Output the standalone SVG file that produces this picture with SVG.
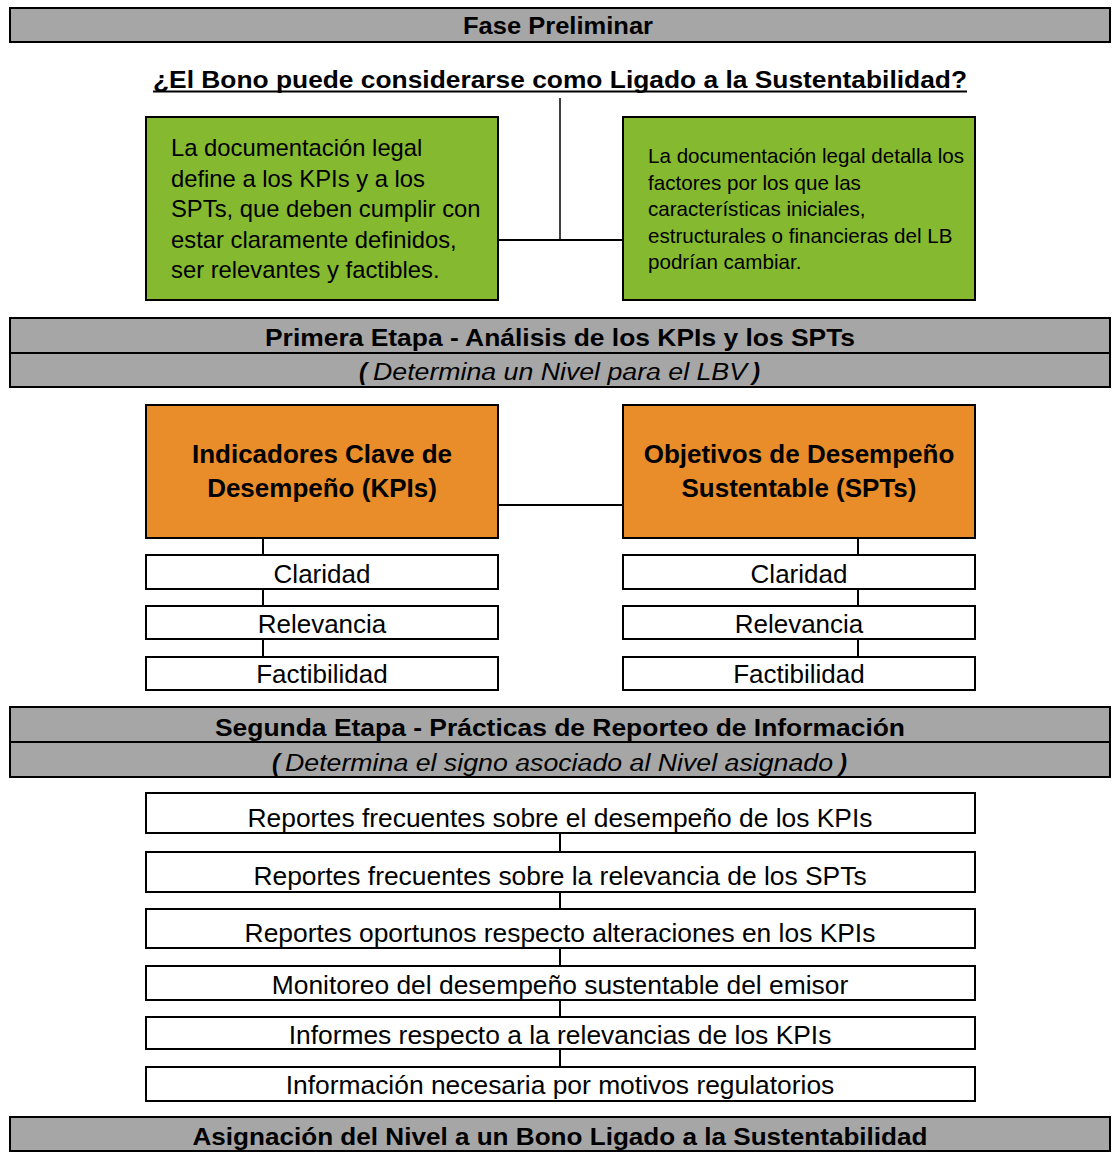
<svg xmlns="http://www.w3.org/2000/svg" width="1119" height="1153" viewBox="0 0 1119 1153">
  <style>
    .bar { fill: #A6A6A6; stroke: #000; stroke-width: 2; }
    .div { stroke: #000; stroke-width: 2; }
    .green { fill: #85B92F; stroke: #000; stroke-width: 2; }
    .orange { fill: #E98D2A; stroke: #000; stroke-width: 2; }
    .white { fill: #FFFFFF; stroke: #000; stroke-width: 2; }
    .conn { stroke: #000; stroke-width: 2; fill: none; }
    text { font-family: "Liberation Sans", Arial, sans-serif; fill: #000; }
    .hd { font-size: 24px; font-weight: bold; text-anchor: middle; }
    .it { font-size: 23px; font-style: italic; text-anchor: middle; }
    .par { font-size: 24px; font-weight: bold; font-style: italic; text-anchor: middle; }
    .gl { font-size: 23.8px; }
    .gr { font-size: 20.6px; }
    .ob { font-size: 26px; font-weight: bold; text-anchor: middle; }
    .sub { font-size: 26px; text-anchor: middle; }
    .rep { font-size: 26.4px; text-anchor: middle; }
  </style>

  <!-- Fase Preliminar -->
  <g id="fase-preliminar">
    <rect class="bar" x="10" y="8" width="1100" height="34"/>
    <text class="hd" x="558" y="34" textLength="190" lengthAdjust="spacingAndGlyphs">Fase Preliminar</text>
  </g>

  <g id="pregunta">
    <text class="hd" x="560" y="88" textLength="814" lengthAdjust="spacingAndGlyphs">¿El Bono puede considerarse como Ligado a la Sustentabilidad?</text>
    <rect x="153" y="90.5" width="814" height="2" fill="#000"/>
  </g>

  <g id="doc-kpis-spts">
    <rect class="green" x="146" y="117" width="352" height="183"/>
    <text class="gl" x="171" y="156">La documentación legal</text>
    <text class="gl" x="171" y="187">define a los KPIs y a los</text>
    <text class="gl" x="171" y="217">SPTs, que deben cumplir con</text>
    <text class="gl" x="171" y="248">estar claramente definidos,</text>
    <text class="gl" x="171" y="278">ser relevantes y factibles.</text>
  </g>

  <g id="doc-factores">
    <rect class="green" x="623" y="117" width="352" height="183"/>
    <text class="gr" x="648" y="163">La documentación legal detalla los</text>
    <text class="gr" x="648" y="190">factores por los que las</text>
    <text class="gr" x="648" y="216">características iniciales,</text>
    <text class="gr" x="648" y="243">estructurales o financieras del LB</text>
    <text class="gr" x="648" y="269">podrían cambiar.</text>
  </g>

  <!-- Primera Etapa -->
  <g id="primera-etapa">
    <rect class="bar" x="10" y="318" width="1100" height="69"/>
    <line class="div" x1="10" y1="353" x2="1110" y2="353"/>
    <text class="hd" x="560" y="346" textLength="590" lengthAdjust="spacingAndGlyphs">Primera Etapa - Análisis de los KPIs y los SPTs</text>
    <text class="par" x="363" y="380">(</text>
    <text class="it" x="560" y="380" textLength="374" lengthAdjust="spacingAndGlyphs">Determina un Nivel para el LBV</text>
    <text class="par" x="756" y="380">)</text>
  </g>

  <g id="kpis">
    <rect class="orange" x="146" y="405" width="352" height="133"/>
    <text class="ob" x="322" y="463">Indicadores Clave de</text>
    <text class="ob" x="322" y="497">Desempeño (KPIs)</text>
  </g>

  <g id="spts">
    <rect class="orange" x="623" y="405" width="352" height="133"/>
    <text class="ob" x="799" y="463">Objetivos de Desempeño</text>
    <text class="ob" x="799" y="497">Sustentable (SPTs)</text>
  </g>

  <g id="kpi-claridad">
    <rect class="white" x="146" y="555" width="352" height="34"/>
    <text class="sub" x="322" y="583">Claridad</text>
  </g>
  <g id="kpi-relevancia">
    <rect class="white" x="146" y="606" width="352" height="33"/>
    <text class="sub" x="322" y="633">Relevancia</text>
  </g>
  <g id="kpi-factibilidad">
    <rect class="white" x="146" y="657" width="352" height="33"/>
    <text class="sub" x="322" y="683">Factibilidad</text>
  </g>

  <g id="spt-claridad">
    <rect class="white" x="623" y="555" width="352" height="34"/>
    <text class="sub" x="799" y="583">Claridad</text>
  </g>
  <g id="spt-relevancia">
    <rect class="white" x="623" y="606" width="352" height="33"/>
    <text class="sub" x="799" y="633">Relevancia</text>
  </g>
  <g id="spt-factibilidad">
    <rect class="white" x="623" y="657" width="352" height="33"/>
    <text class="sub" x="799" y="683">Factibilidad</text>
  </g>

  <!-- Segunda Etapa -->
  <g id="segunda-etapa">
    <rect class="bar" x="10" y="707" width="1100" height="70"/>
    <line class="div" x1="10" y1="742" x2="1110" y2="742"/>
    <text class="hd" x="560" y="736" textLength="690" lengthAdjust="spacingAndGlyphs">Segunda Etapa - Prácticas de Reporteo de Información</text>
    <text class="par" x="276" y="771">(</text>
    <text class="it" x="559" y="771" textLength="548" lengthAdjust="spacingAndGlyphs">Determina el signo asociado al Nivel asignado</text>
    <text class="par" x="843" y="771">)</text>
  </g>

  <g id="rep-1">
    <rect class="white" x="146" y="793" width="829" height="40"/>
    <text class="rep" x="560" y="827">Reportes frecuentes sobre el desempeño de los KPIs</text>
  </g>
  <g id="rep-2">
    <rect class="white" x="146" y="852" width="829" height="40"/>
    <text class="rep" x="560" y="885">Reportes frecuentes sobre la relevancia de los SPTs</text>
  </g>
  <g id="rep-3">
    <rect class="white" x="146" y="909" width="829" height="39"/>
    <text class="rep" x="560" y="942">Reportes oportunos respecto alteraciones en los KPIs</text>
  </g>
  <g id="rep-4">
    <rect class="white" x="146" y="966" width="829" height="34"/>
    <text class="rep" x="560" y="994">Monitoreo del desempeño sustentable del emisor</text>
  </g>
  <g id="rep-5">
    <rect class="white" x="146" y="1017" width="829" height="32"/>
    <text class="rep" x="560" y="1044">Informes respecto a la relevancias de los KPIs</text>
  </g>
  <g id="rep-6">
    <rect class="white" x="146" y="1067" width="829" height="34"/>
    <text class="rep" x="560" y="1094">Información necesaria por motivos regulatorios</text>
  </g>

  <!-- Asignación -->
  <g id="asignacion">
    <rect class="bar" x="10" y="1117" width="1100" height="34"/>
    <text class="hd" x="560" y="1145" textLength="735" lengthAdjust="spacingAndGlyphs">Asignación del Nivel a un Bono Ligado a la Sustentabilidad</text>
  </g>

  <!-- connectors -->
  <g id="connectors">
    <line class="conn" x1="560" y1="98" x2="560" y2="240" style="stroke-width:1.5"/>
    <line class="conn" x1="498" y1="240" x2="623" y2="240"/>
    <line class="conn" x1="498" y1="505" x2="623" y2="505"/>
    <line class="conn" x1="263" y1="538" x2="263" y2="555"/>
    <line class="conn" x1="263" y1="589" x2="263" y2="606"/>
    <line class="conn" x1="263" y1="639" x2="263" y2="657"/>
    <line class="conn" x1="858" y1="538" x2="858" y2="555"/>
    <line class="conn" x1="858" y1="589" x2="858" y2="606"/>
    <line class="conn" x1="858" y1="639" x2="858" y2="657"/>
    <line class="conn" x1="560" y1="833" x2="560" y2="852"/>
    <line class="conn" x1="560" y1="892" x2="560" y2="909"/>
    <line class="conn" x1="560" y1="948" x2="560" y2="966"/>
    <line class="conn" x1="560" y1="1000" x2="560" y2="1017"/>
    <line class="conn" x1="560" y1="1049" x2="560" y2="1067"/>
  </g>
</svg>
